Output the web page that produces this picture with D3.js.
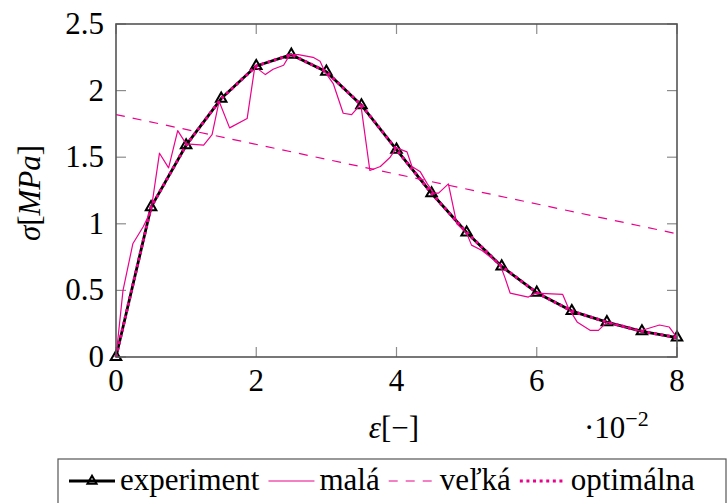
<!DOCTYPE html>
<html>
<head>
<meta charset="utf-8">
<script src="https://cdn.jsdelivr.net/npm/d3@7"></script>
<style>
  html, body { margin: 0; padding: 0; background: #fff; }
  svg { display: block; }
  svg text, svg tspan { font-family: "Liberation Serif", "Times New Roman", Tinos, serif !important; }
</style>
</head>
<body>
<svg id="chart" width="728" height="503" xmlns="http://www.w3.org/2000/svg">
<style>text, tspan { font-family: "Liberation Serif", "Times New Roman", Tinos, serif !important; }</style>
</svg>
<script>
// ---- data (strain in units of 1e-2, stress in MPa) ----
const expX = [0, 0.5, 1, 1.5, 2, 2.5, 3, 3.5, 4, 4.5, 5, 5.5, 6, 6.5, 7, 7.5, 8];
const expY = [0, 1.125, 1.59, 1.94, 2.185, 2.27, 2.142, 1.89, 1.557, 1.229, 0.935, 0.68, 0.483, 0.345, 0.262, 0.193, 0.146];

const malaX = [0, 0.10, 0.24, 0.39, 0.50, 0.62, 0.75, 0.88, 1.0, 1.25, 1.37, 1.47, 1.62, 1.87, 1.98, 2.13, 2.24, 2.39, 2.48, 2.60, 2.81, 2.91, 2.98, 3.10, 3.24, 3.36, 3.46, 3.49, 3.62, 3.77, 3.91, 4.0, 4.15, 4.22, 4.34, 4.44, 4.53, 4.60, 4.74, 4.86, 5.0, 5.07, 5.22, 5.48, 5.55, 5.62, 5.88, 5.98, 6.37, 6.45, 6.58, 6.76, 6.88, 7.0, 7.47, 7.75, 7.89, 8.0];
const malaY = [0, 0.50, 0.85, 0.98, 1.10, 1.53, 1.42, 1.70, 1.60, 1.59, 1.67, 1.92, 1.72, 1.79, 2.18, 2.12, 2.16, 2.19, 2.27, 2.27, 2.25, 2.22, 2.14, 2.05, 1.83, 1.82, 1.88, 1.90, 1.40, 1.43, 1.50, 1.57, 1.54, 1.43, 1.39, 1.30, 1.23, 1.23, 1.30, 1.00, 0.93, 0.84, 0.80, 0.69, 0.59, 0.48, 0.45, 0.48, 0.47, 0.37, 0.26, 0.20, 0.20, 0.262, 0.195, 0.24, 0.225, 0.146];

const velkaX = [0, 8];
const velkaY = [1.82, 0.925];

const optX = [0, 0.5, 1, 1.5, 2, 2.5, 3, 3.5, 4, 4.5, 5, 5.5, 6, 6.5, 7, 7.5, 8];
const optY = [0, 1.125, 1.59, 1.94, 2.185, 2.27, 2.142, 1.89, 1.557, 1.229, 0.935, 0.68, 0.483, 0.345, 0.262, 0.193, 0.146];

const xTicks = [0, 2, 4, 6, 8];
const yTicks = [0, 0.5, 1, 1.5, 2, 2.5];
const yTickLabels = ["0", "0.5", "1", "1.5", "2", "2.5"];
const legendNames = ["experiment", "malá", "veľká", "optimálna"];

// ---- layout ----
const MAG = "#ec008c";
const FONT = "Liberation Serif, Times New Roman, Tinos, serif";
const pL = 116, pR = 677, pT = 24, pB = 357;
const svg = d3.select("#chart");
const x = d3.scaleLinear().domain([0, 8]).range([pL, pR]);
const y = d3.scaleLinear().domain([0, 2.5]).range([pB, pT]);
const FS = 31;
const txt = (sel) => sel.append("text").attr("font-family", FONT).attr("fill", "#000");

// ticks (inward, all four sides)
const tl = 10;
const gT = svg.append("g").attr("stroke", "#8c8c8c").attr("stroke-width", 1.2);
xTicks.forEach(t => {
  gT.append("line").attr("x1", x(t)).attr("x2", x(t)).attr("y1", pB).attr("y2", pB - tl);
  gT.append("line").attr("x1", x(t)).attr("x2", x(t)).attr("y1", pT).attr("y2", pT + tl);
});
yTicks.forEach(t => {
  gT.append("line").attr("y1", y(t)).attr("y2", y(t)).attr("x1", pL).attr("x2", pL + tl);
  gT.append("line").attr("y1", y(t)).attr("y2", y(t)).attr("x1", pR).attr("x2", pR - tl);
});

// tick labels
xTicks.forEach(t => {
  txt(svg).attr("x", x(t)).attr("y", 391).attr("text-anchor", "middle")
    .attr("font-size", FS).text(String(t));
});
yTicks.forEach((t, i) => {
  txt(svg).attr("x", 104).attr("y", y(t) + 10).attr("text-anchor", "end")
    .attr("font-size", FS).text(yTickLabels[i]);
});

// series
const line = d3.line().x(d => x(d[0])).y(d => y(d[1]));
const zip = (a, b) => a.map((v, i) => [v, b[i]]);

const gPlot = svg.append("g");
// experiment
gPlot.append("path").datum(zip(expX, expY)).attr("d", line)
  .attr("fill", "none").attr("stroke", "#000").attr("stroke-width", 2.8).attr("stroke-linejoin", "round");
const tri = d3.symbol().type(d3.symbolTriangle).size(48);
gPlot.selectAll("path.mk").data(zip(expX, expY)).enter().append("path").attr("class", "mk")
  .attr("d", tri).attr("transform", d => `translate(${x(d[0])},${y(d[1])})`)
  .attr("fill", "none").attr("stroke", "#000").attr("stroke-width", 2);
// malá
gPlot.append("path").datum(zip(malaX, malaY)).attr("d", line)
  .attr("fill", "none").attr("stroke", MAG).attr("stroke-width", 1.2).attr("stroke-linejoin", "round");
// veľká
gPlot.append("path").datum(zip(velkaX, velkaY)).attr("d", line)
  .attr("fill", "none").attr("stroke", MAG).attr("stroke-width", 1.2).attr("stroke-dasharray", "9,8");
// optimálna
gPlot.append("path").datum(zip(optX, optY)).attr("d", line)
  .attr("fill", "none").attr("stroke", MAG).attr("stroke-width", 3).attr("stroke-dasharray", "3,3.6");

// frame
svg.append("rect").attr("x", pL).attr("y", pT).attr("width", pR - pL).attr("height", pB - pT)
  .attr("fill", "none").attr("stroke", "#555").attr("stroke-width", 1.6);

// axis labels
const xl = txt(svg).attr("x", 394).attr("y", 438).attr("text-anchor", "middle").attr("font-size", FS);
xl.append("tspan").attr("font-style", "italic").text("ε");
xl.append("tspan").text("[−]");

const ex = txt(svg).attr("x", 584).attr("y", 438).attr("font-size", FS);
ex.append("tspan").text("·10");
ex.append("tspan").attr("font-size", 22).attr("dy", -12).text("−2");

const yl = txt(svg).attr("transform", "translate(40,193) rotate(-90)")
  .attr("text-anchor", "middle").attr("font-size", FS);
yl.append("tspan").attr("font-style", "italic").text("σ");
yl.append("tspan").text("[");
yl.append("tspan").attr("font-style", "italic").text("MPa");
yl.append("tspan").text("]");

// legend
const lg = svg.append("g");
lg.append("rect").attr("x", 58).attr("y", 459).attr("width", 668).attr("height", 60)
  .attr("fill", "#fff").attr("stroke", "#555").attr("stroke-width", 1.2);
const ly = 481, lb = 490;
let cx = 69;
const styles = [
  g => { g.append("line").attr("stroke", "#000").attr("stroke-width", 2.8); },
  g => { g.append("line").attr("stroke", MAG).attr("stroke-width", 1.2); },
  g => { g.append("line").attr("stroke", MAG).attr("stroke-width", 1.2).attr("stroke-dasharray", "9,8"); },
  g => { g.append("line").attr("stroke", MAG).attr("stroke-width", 3).attr("stroke-dasharray", "3,3.6"); }
];
legendNames.forEach((name, i) => {
  const g = lg.append("g");
  styles[i](g);
  g.select("line").attr("x1", cx).attr("x2", cx + 46).attr("y1", ly).attr("y2", ly);
  if (i === 0) {
    g.append("path").attr("d", d3.symbol().type(d3.symbolTriangle).size(36))
      .attr("transform", `translate(${cx + 23},${ly})`).attr("fill", "none")
      .attr("stroke", "#000").attr("stroke-width", 2);
  }
  const t = txt(g).attr("x", cx + 51).attr("y", lb).attr("font-size", FS).text(name);
  cx = cx + 51 + t.node().getComputedTextLength() + 9;
});
</script>
</body>
</html>
